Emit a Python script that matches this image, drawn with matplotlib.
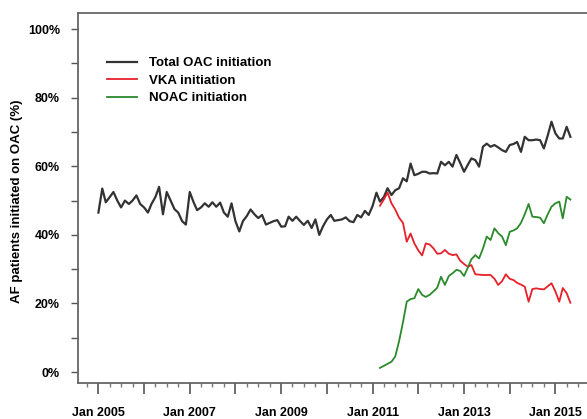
import numpy as np
import pandas as pd
import matplotlib
matplotlib.use("Agg")
import matplotlib.pyplot as plt
import matplotlib.dates as mdates
from matplotlib.ticker import MultipleLocator, FuncFormatter

plt.rcParams["font.family"] = ["Liberation Sans", "DejaVu Sans"]

# monthly share of AF patients initiated on OAC (%), Jan 2005 - May 2015
total_oac = [
    46.5, 53.5, 49.5, 51.0, 52.5, 50.0, 48.0, 50.0, 49.0, 50.0, 51.5, 49.0,
    48.0, 46.5, 49.0, 51.0, 54.0, 46.0, 52.5, 50.0, 47.5, 46.5, 44.0, 43.0,
    52.5, 49.5, 47.2, 48.0, 49.2, 48.2, 49.5, 48.2, 49.4, 46.5, 45.3, 49.2,
    44.0, 41.0, 44.0, 45.5, 47.4, 46.0, 44.9, 45.8, 43.0, 43.5, 44.0, 44.3,
    42.4, 42.5, 45.3, 44.1, 45.3, 44.0, 42.9, 44.1, 42.0, 44.5, 40.0, 42.5,
    44.5, 45.8, 44.1, 44.3, 44.5, 45.1, 44.0, 43.7, 45.8, 45.1, 47.0, 45.8,
    48.4, 52.3, 49.7, 51.0, 53.6, 51.6, 53.0, 53.6, 56.5, 55.6, 60.8, 57.4,
    57.8, 58.4, 58.4, 57.9, 58.0, 57.9, 61.3, 60.3, 61.3, 59.9, 63.3, 61.0,
    58.4, 60.5, 62.3, 61.8, 59.9, 65.7, 66.6, 65.7, 66.2, 65.5, 64.7, 64.2,
    66.2, 66.5, 67.1, 64.2, 68.6, 67.6, 67.6, 67.8, 67.6, 65.2, 69.0, 73.0,
    69.6, 68.1, 68.1, 71.5, 68.6,
]

# Mar 2011 - May 2015
vka = [
    48.5, 50.3, 52.3, 49.2, 47.4, 45.0, 43.5, 38.0, 40.4, 37.5,
    35.5, 34.0, 37.5, 37.2, 36.1, 34.5, 34.6, 35.6, 34.5, 34.1,
    34.3, 32.5, 31.5, 30.7, 31.2, 28.5, 28.4, 28.3, 28.3, 28.3,
    27.2, 25.4, 26.5, 28.5, 27.2, 26.8, 26.0, 25.5, 24.9, 20.5,
    24.2, 24.4, 24.2, 24.1, 25.0, 25.9, 23.5, 20.5, 24.5, 23.0,
    20.2,
]
noac = [
    1.2, 1.8, 2.4, 3.0, 4.5, 9.0, 14.5, 20.5, 21.3, 21.5,
    24.2, 22.5, 21.9, 22.5, 23.5, 24.6, 27.8, 25.4, 28.0, 28.8,
    29.8, 29.5, 28.0, 30.5, 32.9, 34.1, 33.1, 36.0, 39.5, 38.5,
    41.9, 40.5, 39.5, 37.0, 40.9, 41.3, 41.9, 43.5, 46.0, 49.0,
    45.3, 45.2, 45.0, 43.4, 46.0, 48.2, 49.2, 49.7, 44.8, 51.1,
    50.3,
]

months = pd.date_range("2005-01-01", periods=len(total_oac), freq="MS")
months_new = pd.date_range("2011-03-01", periods=len(vka), freq="MS")

fig = plt.figure(figsize=(5.87, 4.19), dpi=100)
ax = fig.add_axes([78 / 587, 36 / 419, 1 - 78 / 587 + 0.002, 370 / 419])

ax.plot(months, total_oac, color="#333333", lw=1.6, label="Total OAC initiation")
ax.plot(months_new, vka, color="#e8202a", lw=1.3, label="VKA initiation")
ax.plot(months_new, noac, color="#2b8a2b", lw=1.3, label="NOAC initiation")

ax.set_xlim(pd.Timestamp("2004-07-22"), pd.Timestamp("2015-09-20"))
ax.set_ylim(-3.2, 104.7)

ax.yaxis.set_major_locator(MultipleLocator(10))
ax.yaxis.set_major_formatter(
    FuncFormatter(lambda v, p: f"{int(v)}%" if round(v) % 20 == 0 else "")
)
ax.xaxis.set_major_locator(mdates.YearLocator(1))
ax.xaxis.set_minor_locator(mdates.MonthLocator(bymonth=[4, 7, 10]))
ax.xaxis.set_major_formatter(
    FuncFormatter(
        lambda v, p: mdates.num2date(v).strftime("Jan %Y")
        if mdates.num2date(v).year % 2 == 1 else ""
    )
)

ax.tick_params(axis="y", direction="out", length=5, width=1, pad=8,
               labelsize=9, colors="#555555", labelcolor="black")
ax.tick_params(axis="x", which="major", direction="out", length=8, width=1.2,
               pad=9, labelsize=9, colors="#555555", labelcolor="black")
ax.tick_params(axis="x", which="minor", direction="out", length=3, width=1,
               colors="#777777")
for lab in ax.get_xticklabels() + ax.get_yticklabels():
    lab.set_fontweight("bold")

for side in ["left", "bottom", "top"]:
    ax.spines[side].set_color("#666666")
    ax.spines[side].set_linewidth(1.3)
ax.spines["right"].set_visible(False)

ax.set_ylabel("AF patients initiated on OAC (%)", fontsize=9.5, fontweight="bold")
ax.yaxis.set_label_coords(-0.108, 0.49)

ax.legend(loc="upper left", bbox_to_anchor=(107 / 587, 1 - 57 / 419),
          bbox_transform=fig.transFigure, frameon=False,
          prop={"weight": "bold", "size": 9.5}, handlelength=2.3,
          handletextpad=0.85, labelspacing=0.4, borderpad=0, borderaxespad=0)

fig.savefig("out.png", dpi=100)
